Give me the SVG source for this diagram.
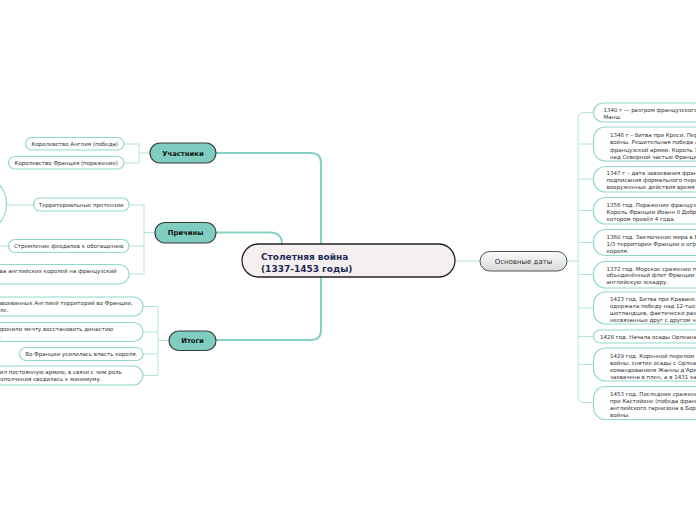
<svg xmlns="http://www.w3.org/2000/svg" width="696" height="520" viewBox="0 0 696 520">
<defs>
<style>
text{font-family:"DejaVu Sans","Verdana",sans-serif;fill:#333}
.sub{fill:#fff;stroke:#93d8cd;stroke-width:1.2}
.st{font-size:5.5px}
.topic{fill:#7fcdc1;stroke:#3a3a3a;stroke-width:1.2}
.tt{font-size:6.8px;font-weight:bold;fill:#111;text-anchor:middle}
.c{fill:none;stroke:#b3e4dc;stroke-width:1}
.main{fill:none;stroke:#86d1c5;stroke-width:2}
</style>
<linearGradient id="gd" x1="0" y1="0" x2="0" y2="1">
<stop offset="0" stop-color="#fbfbfb"/>
<stop offset="1" stop-color="#d9d9d9"/>
</linearGradient>
</defs>
<rect width="696" height="520" fill="#fff"/>

<g id="connectors">
<path class="main" d="M216,153 H311 Q321,153 321,163 V330 Q321,340 311,340 H216"/>
<path class="main" d="M216,232.5 H270 Q282,232.5 282,244" stroke="#a6dfd6"/>
<path class="c" d="M455,261 H480" stroke="#9fdcd2"/>
<path class="c" d="M567,261 H578"/>
<path class="c" d="M593,112.5 H584 Q578,112.5 578,118.5 V396.5 Q578,402.5 584,402.5 H593"/>
<path class="c" d="M578,144 H593 M578,179 H593 M578,210.5 H593 M578,242.5 H593 M578,274.5 H593 M578,308 H593 M578,336.5 H593 M578,364.5 H593"/>
<path class="c" d="M150,153 H139 M124,144 H139 V163 H124"/>
<path class="c" d="M155,232.5 H144 M129,205 H144 V274 H129 M129,246 H144"/>
<path class="c" d="M33,205 H6 M8,246 H0"/>
<path class="c" d="M169,340.5 H158 M143,306.5 H158 V375.5 H143 M143,332 H158 M143,354 H158"/>
</g>

<g id="central">
<rect x="242" y="244" width="213" height="33" rx="16.5" fill="#f5f0ef" stroke="#222" stroke-width="1.3"/>
<text x="261" y="260" font-size="9" font-weight="bold" style="fill:#1b2a55">Столетняя война</text>
<text x="261" y="271.5" font-size="9" font-weight="bold" style="fill:#1b2a55">(1337-1453 годы)</text>
</g>

<g id="uchastniki">
<rect class="topic" x="150" y="143" width="66" height="20" rx="10"/>
<text class="tt" x="183" y="155.5">Участники</text>
</g>
<g id="prichiny">
<rect class="topic" x="155" y="222.5" width="61" height="20.5" rx="10"/>
<text class="tt" x="185.5" y="235">Причины</text>
</g>
<g id="itogi">
<rect class="topic" x="169" y="331" width="47" height="19.5" rx="9.75"/>
<text class="tt" x="192.5" y="343">Итоги</text>
</g>
<g id="osnovnye-daty">
<rect x="480" y="251.5" width="87" height="19.5" rx="9.75" fill="url(#gd)" stroke="#555" stroke-width="1"/>
<text x="523.5" y="263.5" font-size="7" text-anchor="middle" style="fill:#333">Основные даты</text>
</g>

<g id="anglia">
<rect class="sub" x="25.5" y="137.5" width="98.5" height="12.5" rx="6.25"/>
<text class="st" x="74.75" y="145.8" text-anchor="middle">Королевство Англия (победа)</text>
</g>
<g id="francia">
<rect class="sub" x="8.5" y="156.5" width="115.5" height="12.5" rx="6.25"/>
<text class="st" x="66.25" y="164.8" text-anchor="middle">Королевство Франция (поражение)</text>
</g>

<g id="circle-left">
<circle cx="-23" cy="204" r="29.5" fill="#fff" stroke="#93d8cd" stroke-width="1.2"/>
</g>
<g id="territ">
<rect class="sub" x="33.5" y="198" width="95.5" height="13" rx="6.5"/>
<text class="st" x="81.25" y="206.5" text-anchor="middle">Территориальные претензии</text>
</g>
<g id="stremlenie">
<rect class="sub" x="8.5" y="239.5" width="120.5" height="13" rx="6.5"/>
<text class="st" x="68.75" y="248" text-anchor="middle">Стремление феодалов к обогащению</text>
</g>
<g id="prava">
<rect class="sub" x="-80" y="264.5" width="209" height="19.5" rx="9.75"/>
<text class="st" x="-57" y="273">Династические права английских королей на французский</text>
<text class="st" x="-57" y="280">престол.</text>
</g>

<g id="itog1">
<rect class="sub" x="-60" y="297" width="203" height="19" rx="9.5"/>
<text class="st" x="-27" y="305">Утрата завоеванных Англией территорий во Франции,</text>
<text class="st" x="-27" y="312">кроме Кале.</text>
</g>
<g id="itog2">
<rect class="sub" x="-60" y="322.5" width="203" height="19" rx="9.5"/>
<text class="st" x="-45" y="330.5">Англичане похоронили мечту восстановить династию</text>
<text class="st" x="-45" y="337.5">Плантагенетов.</text>
</g>
<g id="itog3">
<rect class="sub" x="19.5" y="347.5" width="123.5" height="13" rx="6.5"/>
<text class="st" x="81.25" y="356" text-anchor="middle">Во Франции усилилась власть короля.</text>
</g>
<g id="itog4">
<rect class="sub" x="-60" y="366" width="203" height="19" rx="9.5"/>
<text class="st" x="-40" y="374">Король учредил постоянную армию, в связи с чем роль</text>
<text class="st" x="-40" y="381">феодального ополчения сводилась к минимуму.</text>
</g>

<g id="d1340">
<rect class="sub" x="593.5" y="103" width="140" height="19" rx="9.5"/>
<text class="st" x="603.5" y="111.5">1340 г — разгром французского флота при Слейсе в проливе Ла-</text>
<text class="st" x="603.5" y="118.5">Манш</text>
</g>
<g id="d1346">
<rect class="sub" x="593.5" y="127" width="140" height="34" rx="12"/>
<text class="st" x="610" y="136.5">1346 г – битва при Креси. Переломный момент первого периода</text>
<text class="st" x="610" y="144">войны. Решительная победа английской армии над цветом</text>
<text class="st" x="610" y="151.5">французской армии. Король Эдуард III установил контроль</text>
<text class="st" x="610" y="159">над Северной частью Франции.</text>
</g>
<g id="d1347">
<rect class="sub" x="593.5" y="166.5" width="140" height="25.5" rx="12"/>
<text class="st" x="606.5" y="175">1347 г – дата завоевания французского порта Кале и</text>
<text class="st" x="606.5" y="182">подписания формального перемирия, хотя</text>
<text class="st" x="606.5" y="189">вооруженные действия время от времени продолжались.</text>
</g>
<g id="d1356">
<rect class="sub" x="593.5" y="197.5" width="140" height="26.5" rx="12"/>
<text class="st" x="606.5" y="207">1356 год.  Поражение французской армии при Пуатье.</text>
<text class="st" x="606.5" y="214">Король Франции Иоанн II Добрый попал в плен, в</text>
<text class="st" x="606.5" y="221">котором провёл 4 года.</text>
</g>
<g id="d1360">
<rect class="sub" x="593.5" y="229.5" width="140" height="26" rx="12"/>
<text class="st" x="606.5" y="239">1360 год.  Заключение мира в Бретиньи. Англия получила</text>
<text class="st" x="606.5" y="246">1/3 территории Франции и огромный выкуп за</text>
<text class="st" x="606.5" y="253">короля.</text>
</g>
<g id="d1372">
<rect class="sub" x="593.5" y="261.5" width="140" height="26.5" rx="12"/>
<text class="st" x="606.5" y="270.5">1372 год. Морское сражение при Ла-Рошели, в котором</text>
<text class="st" x="606.5" y="277">объединённый флот Франции и Кастилии разгромил</text>
<text class="st" x="606.5" y="284">английскую эскадру.</text>
</g>
<g id="d1423">
<rect class="sub" x="593.5" y="292" width="140" height="32" rx="12"/>
<text class="st" x="610" y="301">1423 год.  Битва при Краване. Англо-бургундская армия</text>
<text class="st" x="610" y="308">одержала победу над 12-тысячной армией французов и</text>
<text class="st" x="610" y="315">шотландцев, фактически разрезав территорию дофина на две</text>
<text class="st" x="610" y="322">несвязанные друг с другом части.</text>
</g>
<g id="d1428">
<rect class="sub" x="593.5" y="330" width="140" height="13" rx="6.5"/>
<text class="st" x="600" y="338.8">1428 год.  Начала осады Орлеана англичанами.</text>
</g>
<g id="d1429">
<rect class="sub" x="593.5" y="348" width="140" height="33" rx="12"/>
<text class="st" x="610" y="358">1429 год.  Коренной перелом в ходе</text>
<text class="st" x="610" y="365">войны: снятие осады с Орлеана под</text>
<text class="st" x="610" y="372">командованием Жанны д'Арк. В 1430 г. она была</text>
<text class="st" x="610" y="379">захвачена в плен, а в 1431 казнена.</text>
</g>
<g id="d1453">
<rect class="sub" x="593.5" y="386.5" width="140" height="33" rx="12"/>
<text class="st" x="610" y="396">1453 год.  Последние сражения</text>
<text class="st" x="610" y="403">при Кастийоне (победа французов) и капитуляция</text>
<text class="st" x="610" y="410">английского гарнизона в Бордо. Окончание</text>
<text class="st" x="610" y="417">войны.</text>
</g>
</svg>
